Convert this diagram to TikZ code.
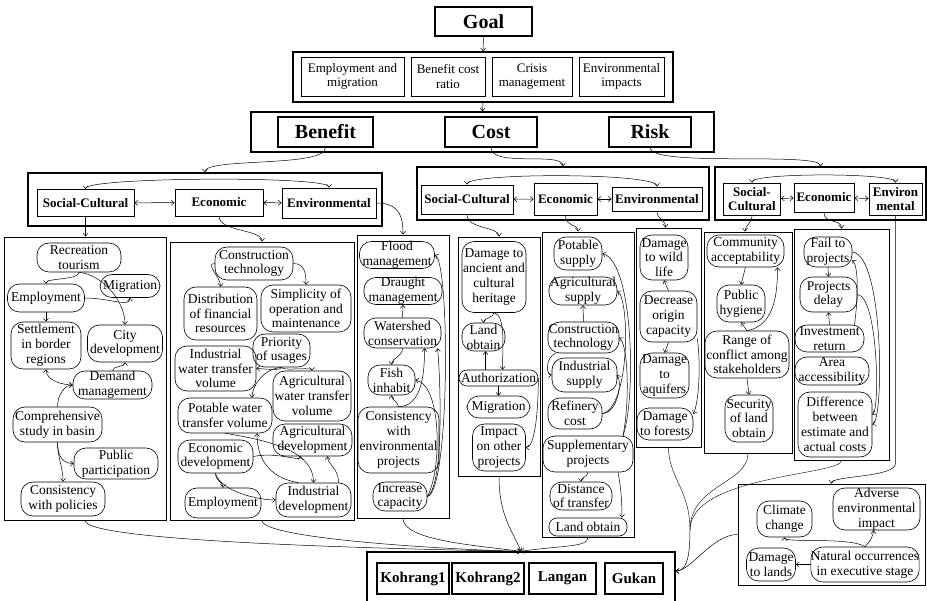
\documentclass[tikz,border=0pt]{standalone}
\usepackage{fontspec}
\setmainfont{Liberation Serif}
\usetikzlibrary{arrows.meta, positioning, calc}

\tikzset{
  sz/.style 2 args={minimum width=#1pt, minimum height=#2pt},
  grp/.style={draw, line width=1.3pt, inner sep=0pt},
  panel/.style={draw, line width=0.9pt, inner sep=0pt},
  hdr/.style={draw, line width=1.3pt, inner sep=0pt, font=\bfseries\fontsize{20}{22}\selectfont},
  crit/.style={draw, line width=0.7pt, align=center, inner sep=0pt, font=\fontsize{13}{14.5}\selectfont},
  dimbox/.style={draw, line width=0.8pt, align=center, inner sep=0pt, font=\bfseries\fontsize{13}{14.5}\selectfont},
  sub/.style={draw, line width=0.6pt, rounded corners=12pt, align=center, inner sep=0pt, font=\fontsize{13.5}{14.8}\selectfont},
  flat/.style={rounded corners=8pt},
  altbox/.style={draw, line width=1.3pt, inner sep=0pt, font=\bfseries\fontsize{15}{17}\selectfont},
  link/.style={-{Straight Barb[length=3pt,width=5pt]}, line width=0.5pt},
  dlink/.style={{Straight Barb[length=3pt,width=5pt]}-{Straight Barb[length=3pt,width=5pt]}, line width=0.5pt},
}

\begin{document}
\begin{tikzpicture}[x=1pt, y=-1pt]
    \useasboundingbox (0,0) rectangle (927,601);

    % --- Goal and criteria ---
    \node[hdr, sz={97}{29}] (goal) at (483.5,21.5) {Goal};
    \node[grp, sz={380}{50}] (critbox) at (483,77) {};
    \node[crit, sz={103}{39}] (em) at (352.5,76.5) {Employment and\\migration};
    \node[crit, sz={74}{39}] (bcr) at (448,76.5) {Benefit cost\\ratio};
    \node[crit, sz={80}{39}] (cm) at (532,76.5) {Crisis\\management};
    \node[crit, sz={85}{39}] (ei) at (621.5,76.5) {Environmental\\impacts};

    % --- Benefit / Cost / Risk ---
    \node[grp, sz={463}{40}] (bcrbox) at (482.5,132) {};
    \node[hdr, sz={95}{30}] (benefit) at (325.5,132) {Benefit};
    \node[hdr, sz={92}{30}] (cost) at (491,132) {Cost};
    \node[hdr, sz={82}{30}] (risk) at (650,132) {Risk};

    \draw[link] (goal.south) -- (critbox.north);
    \draw[link] (critbox.south) -- (bcrbox.north);

    % --- Dimension groups ---
    \node[grp, sz={354}{53}] (bgrp) at (205,199.5) {};
    \node[dimbox, sz={97}{27}] (bsc) at (85.5,203) {Social-Cultural};
    \node[dimbox, sz={88}{27}] (bec) at (219,202.5) {Economic};
    \node[dimbox, sz={94}{30}] (ben) at (329,203) {Environmental};

    \node[grp, sz={292}{53}] (cgrp) at (563,193.5) {};
    \node[dimbox, sz={92}{29}] (csc) at (467,199.5) {Social-Cultural};
    \node[dimbox, sz={63}{32}] (cec) at (565.5,199) {Economic};
    \node[dimbox, sz={90}{24}] (cen) at (657,199) {Environmental};

    \node[grp, sz={211}{53}] (rgrp) at (820.5,193.5) {};
    \node[dimbox, sz={57}{32}] (rsc) at (752,199) {Social-\\Cultural};
    \node[dimbox, sz={60}{29}] (rec) at (824,197.5) {Economic};
    \node[dimbox, sz={53}{32}] (ren) at (895.5,199) {Environ\\mental};

    \draw[link] (benefit.south) .. controls +(0,20) and +(0,-15) .. (bgrp.north);
    \draw[link] (cost.south) .. controls +(0,20) and +(0,-15) .. (cgrp.north);
    \draw[link] (risk.south) .. controls +(0,20) and +(0,-15) .. (rgrp.north);

    \draw[dlink] (bsc) -- (bec);
    \draw[dlink] (bec) -- (ben);
    \draw[dlink] (bsc.north) .. controls +(0,-12) and +(0,-12) .. (ben.north);
    \draw[dlink] (csc) -- (cec);
    \draw[dlink] (cec) -- (cen);
    \draw[dlink] (csc.north) .. controls +(0,-12) and +(0,-14) .. (cen.north);
    \draw[dlink] (rsc) -- (rec);
    \draw[dlink] (rec) -- (ren);
    \draw[dlink] (rsc.north) .. controls +(0,-10) and +(0,-10) .. (ren.north);

    % --- Sub-criteria panels ---
    \node[panel, sz={162}{283}] (p1) at (85,378.5) {};
    \node[panel, sz={184}{278}] (p2) at (262,381) {};
    \node[panel, sz={92}{283}] (p3) at (403,376.5) {};
    \node[panel, sz={82}{239}] (p4) at (499,356.5) {};
    \node[panel, sz={92}{305}] (p5) at (588,384.5) {};
    \node[panel, sz={65}{219}] (p6) at (668.5,337.5) {};
    \node[panel, sz={88}{221}] (p7) at (748,342.5) {};
    \node[panel, sz={95}{231}] (p8) at (841.5,344.5) {};
    \node[panel, sz={187}{101}] (p9) at (831.5,534.5) {};

    \draw[link] (bsc.south) -- (bsc.south |- p1.north);
    \draw[link] (bec.south) .. controls +(0,15) and +(0,-12) .. (p2.north);
    \draw[link] (ben.east) .. controls +(25,0) and +(0,-15) .. (p3.north);
    \draw[link] (csc.south) .. controls +(0,15) and +(0,-10) .. (p4.north);
    \draw[link] (cec.south) .. controls +(0,12) and +(0,-8) .. ([xshift=-10pt]p5.north);
    \draw[link] (cen.south) .. controls +(0,8) and +(0,-8) .. ([xshift=-3pt]p6.north);
    \draw[link] (rsc.south) .. controls +(0,8) and +(0,-6) .. ([xshift=-3pt]p7.north);
    \draw[link] (rec.south) .. controls +(0,12) and +(0,-10) .. (p8.north);
    \draw[link] (ren.south) -- ([yshift=20pt]ren.south |- p9.north) .. controls +(0,14) and +(0,-8) .. (p9.north);

    % Benefit: social-cultural
    \node[sub, sz={84}{29}] (rt) at (79,257.5) {Recreation\\tourism};
    \node[sub, sz={60}{23}] (mig1) at (130,286) {Migration};
    \node[sub, sz={77}{28}] (emp1) at (46,298) {Employment};
    \node[sub, sz={70}{47}] (set) at (46,345.5) {Settlement\\in border\\regions};
    \node[sub, sz={75}{37}] (city) at (125,343.5) {City\\development};
    \node[sub, sz={79}{28}] (dem) at (112.5,385) {Demand\\management};
    \node[sub, sz={89}{35}] (comp) at (57.5,424.5) {Comprehensive\\study in basin};
    \node[sub, sz={84}{31}] (pub) at (116,463.5) {Public\\participation};
    \node[sub, sz={84}{34}] (cons1) at (63,499) {Consistency\\with policies};

    \draw[link] (rt.south) .. controls +(0,8) and +(0,-6) .. (emp1.north);
    \draw[link] (rt.south) .. controls +(22,2) and +(0,-25) .. (city.north);
    \draw[link] (emp1.east) .. controls +(25,0) and +(0,10) .. (mig1.south);
    \draw[link] (emp1.south) -- (set.north);
    \draw[link] (dem.north) .. controls +(0,-5) and +(0,5) .. (city.south);
    \draw[dlink] (set.south) .. controls +(0,12) and +(-8,0) .. (dem.west);
    \draw[link] (comp.north) .. controls +(0,-12) and +(-8,0) .. (dem.west);
    \draw[link] (comp.south) .. controls +(0,15) and +(-10,0) .. (pub.west);
    \draw[link] (comp.south) .. controls +(0,15) and +(0,-15) .. (cons1.north);

    % Benefit: economic
    \node[sub, sz={78}{33}] (ct1) at (254,263.5) {Construction\\technology};
    \node[sub, sz={73}{53}] (dist) at (220.5,313.5) {Distribution\\of financial\\resources};
    \node[sub, sz={90}{47}] (simp) at (306,308.5) {Simplicity of\\operation and\\maintenance};
    \node[sub, sz={57}{33}] (prio) at (281.5,350.5) {Priority\\of usages};
    \node[sub, sz={81}{45}] (iwt) at (215.5,368.5) {Industrial\\water transfer\\volume};
    \node[sub, sz={78}{50}] (awt) at (312,396) {Agricultural\\water transfer\\volume};
    \node[sub, sz={94}{35}] (pwt) at (225,415.5) {Potable water\\transfer volume};
    \node[sub, sz={79}{32}] (agd) at (312.5,440) {Agricultural\\development};
    \node[sub, sz={75}{33}] (ecd) at (215.5,456.5) {Economic\\development};
    \node[sub, sz={76}{30}] (emp2) at (223,503) {Employment};
    \node[sub, sz={75}{34}] (ind) at (313.5,500) {Industrial\\development};

    \draw[link] (ct1.west) .. controls +(-10,0) and +(0,-10) .. (dist.north);
    \draw[link] (ct1.east) .. controls +(12,0) and +(0,-10) .. (simp.north);
    \draw[link] (prio.south) .. controls +(0,4) and +(6,0) .. (iwt.east);
    \draw[link] (prio.south) .. controls +(0,4) and +(0,-4) .. (awt.north);
    \draw[link] (prio.south) .. controls +(-20,2) and +(0,-10) .. ([xshift=27pt]pwt.north);
    \draw[link] (ecd.east) .. controls +(25,-5) and +(0,6) .. ([xshift=-12pt]agd.south);
    \draw[link] (pwt.south) .. controls +(50,8) and +(0,-30) .. (ind.north);
    \draw[link] ([xshift=-15pt]ind.north) .. controls +(-30,-5) and +(0,25) .. ([xshift=32pt]pwt.south);
    \draw[link] ([xshift=25pt]ind.north) .. controls +(0,-15) and +(0,8) .. ([xshift=15pt]agd.south);
    \draw[link] (ecd.south) .. controls +(0,8) and +(0,-6) .. (emp2.north);
    \draw[link] (ecd.south) .. controls +(5,18) and +(-18,0) .. (ind.west);

    % Benefit: environmental
    \node[sub, sz={75}{26}] (flood) at (397,255) {Flood\\management};
    \node[sub, sz={78}{27}] (draught) at (403,291) {Draught\\management};
    \node[sub, sz={77}{30}] (water) at (402.5,333) {Watershed\\conservation};
    \node[sub, sz={47}{30}] (fish) at (391.5,380) {Fish\\inhabit};
    \node[sub, sz={81}{66}] (cenv) at (398.5,440) {Consistency\\with\\environmental\\projects};
    \node[sub, sz={54}{29}] (inc) at (400,496.5) {Increase\\capacity};

    \draw[link] (water.north) -- (draught.south);
    \draw[link] (water.south) .. controls +(0,8) and +(0,-6) .. (fish.north);
    \draw[link] (cenv.north) .. controls +(0,-4) and +(0,4) .. (fish.south);
    \draw[link] (cenv.north) .. controls +(25,0) and +(0,20) .. ([xshift=22pt]water.south);
    \draw[link] (inc.east) .. controls (450,492) and (450,262) .. (flood.east);
    \draw[link] (inc.east) .. controls (445,485) and (440,370) .. ([xshift=35pt]water.south);
    \draw[link] (inc.east) .. controls (442,470) and (442,385) .. (fish.east);

    % Cost: social-cultural
    \node[sub, sz={64}{71}] (anc) at (494,277) {Damage to\\ancient and\\cultural\\heritage};
    \node[sub, sz={43}{28}] (land1) at (483.5,337) {Land\\obtain};
    \node[sub, flat, sz={79}{16}] (auth) at (498.5,378) {Authorization};
    \node[sub, sz={63}{22}] (mig2) at (498.5,407) {Migration};
    \node[sub, sz={53}{47}] (imp) at (499,447.5) {Impact\\on other\\projects};

    \draw[link] (anc.south) .. controls +(0,5) and +(0,-5) .. (land1.north);
    \draw[link] (anc.south) .. controls +(12,2) and +(0,-20) .. ([xshift=4pt]auth.north);
    \draw[link] ([xshift=-13pt]auth.north) -- ([xshift=2pt]land1.south);
    \draw[link] (auth.south) -- (mig2.north);
    \draw[link] (auth.east) .. controls +(0,40) and +(8,0) .. (imp.east);

    % Cost: economic
    \node[sub, sz={48}{33}] (pot) at (578,253.5) {Potable\\supply};
    \node[sub, sz={68}{28}] (agr) at (583,291) {Agricultural\\supply};
    \node[sub, sz={71}{31}] (ct2) at (583.5,337.5) {Construction\\technology};
    \node[sub, sz={65}{34}] (isup) at (584.5,375) {Industrial\\supply};
    \node[sub, sz={54}{31}] (ref) at (575,413.5) {Refinery\\cost};
    \node[sub, sz={90}{36}] (supp) at (588,454) {Supplementary\\projects};
    \node[sub, sz={62}{28}] (dis) at (581,496) {Distance\\of transfer};
    \node[sub, flat, sz={78}{18}] (land2) at (588,527) {Land obtain};

    \draw[link] (ct2.north) -- (agr.south);
    \draw[link] ([xshift=-28pt]ct2.south) .. controls +(-10,4) and +(-6,0) .. (isup.west);
    \draw[link] (ref.east) .. controls +(15,0) and +(5,8) .. (isup.east);
    \draw[link] (ref.east) .. controls (630,408) and (630,300) .. (agr.east);
    \draw[link] ([xshift=35pt]supp.north) .. controls (636,400) and (634,262) .. (pot.east);
    \draw[link] ([xshift=35pt]supp.north) .. controls (630,400) and (628,345) .. (ct2.east);
    \draw[link] (supp.south) .. controls +(0,4) and +(0,-4) .. (dis.north);
    \draw[link] ([xshift=30pt]supp.south) .. controls +(3,15) and +(0,-15) .. ([xshift=34pt]land2.north);

    % Cost: environmental
    \node[sub, sz={48}{45}] (wild) at (664,257.5) {Damage\\to wild\\life};
    \node[sub, sz={57}{51}] (dec) at (668.5,316.5) {Decrease\\origin\\capacity};
    \node[sub, sz={49}{45}] (aqu) at (664.5,375.5) {Damage\\to\\aquifers};
    \node[sub, sz={56}{32}] (forest) at (665,424) {Damage\\to forests};

    \draw[link] (dec.north) -- (wild.south);
    \draw[link] (dec.south) -- (aqu.north);
    \draw[link] ([yshift=4pt]dec.south east) .. controls +(4,30) and +(5,-10) .. ([yshift=10pt]forest.east);

    % Risk: social-cultural
    \node[sub, sz={77}{32}] (comm) at (745.5,251) {Community\\acceptability};
    \node[sub, sz={48}{37}] (hyg) at (741,303.5) {Public\\hygiene};
    \node[sub, sz={84}{47}] (range) at (747,354.5) {Range of\\conflict among\\stakeholders};
    \node[sub, sz={48}{47}] (sec) at (749,418.5) {Security\\of land\\obtain};

    \draw[link] (comm.south) -- (hyg.north);
    \draw[link] (range.north) -- (hyg.south);
    \draw[link] (range.north) .. controls +(28,-5) and +(0,25) .. ([xshift=32pt]comm.south);
    \draw[link] (range.south) -- (sec.north);

    % Risk: economic
    \node[sub, sz={48}{30}] (fail) at (828,252) {Fail to\\projects};
    \node[sub, sz={57}{35}] (delay) at (828.5,294.5) {Projects\\delay};
    \node[sub, sz={69}{27}] (inv) at (829.5,338.5) {Investment\\return};
    \node[sub, sz={74}{28}] (area) at (832,371) {Area\\accessibility};
    \node[sub, sz={74}{65}] (diff) at (835,424.5) {Difference\\between\\estimate and\\actual costs};

    \draw[link] (fail.south) -- (delay.north);
    \draw[link] (inv.north) -- (delay.south);
    \draw[link] (fail.east) .. controls (884,255) and (884,420) .. (diff.east);
    \draw[link] (delay.east) .. controls (878,296) and (880,410) .. ([yshift=10pt]diff.east);
    \draw[link] ([xshift=25pt]inv.north) .. controls +(4,-30) and +(6,6) .. ([yshift=-8pt]fail.east);

    % Risk: environmental
    \node[sub, sz={55}{36}] (clim) at (784.5,519) {Climate\\change};
    \node[sub, sz={87}{42}] (adv) at (876.5,509) {Adverse\\environmental\\impact};
    \node[sub, sz={49}{33}] (dmg) at (771,564.5) {Damage\\to lands};
    \node[sub, sz={108}{35}] (nat) at (865,564.5) {Natural occurrences\\in executive stage};

    \draw[link] (nat.north) .. controls +(-15,-10) and +(0,6) .. (clim.south);
    \draw[link] (nat.north) .. controls +(5,-5) and +(0,5) .. ([xshift=-3pt]adv.south);
    \draw[link] (nat.west) -- (dmg.east);

    % --- Alternatives ---
    \node[altbox, sz={308}{58}] (alts) at (521,581) {};
    \node[altbox, sz={72}{31}] (k1) at (413,578.5) {Kohrang1};
    \node[altbox, sz={72}{31}] (k2) at (488,578.5) {Kohrang2};
    \node[altbox, sz={67}{31}] (lan) at (562.5,578.5) {Langan};
    \node[altbox, sz={58}{31}] (guk) at (634,578.5) {Gukan};

    \coordinate (jn) at (690,530);
    \draw[link] (p1.south) .. controls +(0,22) and +(-110,-2) .. (alts.north);
    \draw[link] (p2.south) .. controls +(0,18) and +(-80,-2) .. (alts.north);
    \draw[link] (p3.south) .. controls +(0,22) and +(-45,-6) .. (alts.north);
    \draw[link] (p4.south) .. controls +(0,40) and +(-8,-20) .. (alts.north);
    \draw[link] (p5.south) .. controls +(0,10) and +(40,-6) .. (alts.north);
    \draw (p6.south) .. controls +(0,30) and +(0,-40) .. (jn);
    \draw (p7.south) .. controls +(0,30) and +(0,-45) .. (jn);
    \draw (p8.south) .. controls +(0,15) and +(0,-55) .. (jn);
    \draw[link] (jn) .. controls +(0,30) and +(10,0) .. ([yshift=10pt]alts.east);
    \draw[link] (p9.west) .. controls +(-25,0) and +(15,0) .. ([yshift=10pt]alts.east);
\end{tikzpicture}
\end{document}
